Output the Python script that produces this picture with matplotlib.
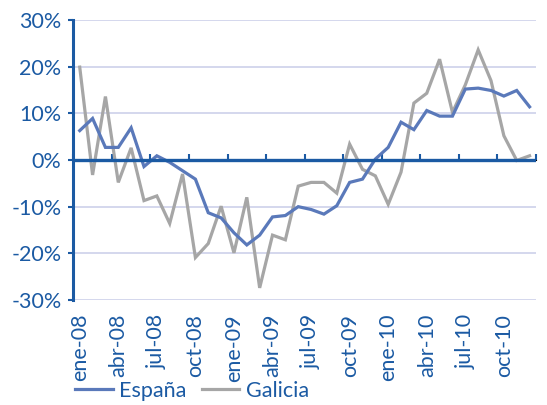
import matplotlib
matplotlib.use('Agg')
import matplotlib.pyplot as plt
import numpy as np

# monthly year-on-year change (%), ene-08 .. dic-10
month_names = ["ene", "feb", "mar", "abr", "may", "jun",
               "jul", "ago", "sep", "oct", "nov", "dic"]
years = ["08", "09", "10"]
months = [f"{m}-{y}" for y in years for m in month_names]

espana = [6.3, 8.9, 2.7, 2.7, 6.9, -1.4, 0.9, -0.5, -2.3, -4.1, -11.3, -12.4,
          -15.6, -18.2, -16.1, -12.2, -11.9, -10.0, -10.6, -11.6, -9.8, -4.8, -4.1, 0.2,
          2.7, 8.1, 6.5, 10.6, 9.4, 9.4, 15.2, 15.4, 14.9, 13.7, 14.9, 11.4]
galicia = [19.9, -3.2, 13.6, -4.8, 2.6, -8.7, -7.7, -13.6, -3.0, -20.9, -17.9, -9.9,
           -19.9, -8.0, -27.4, -16.1, -17.1, -5.6, -4.8, -4.8, -7.1, 3.4, -2.0, -3.4,
           -9.5, -2.6, 12.2, 14.3, 21.6, 10.2, 16.1, 23.6, 17.0, 5.2, -0.1, 0.9]
y_ticks = [-30, -20, -10, 0, 10, 20, 30]

BLUE_TXT = '#1b5aa3'
BLUE_LINE = '#5a79ba'
GREY_LINE = '#a6a6a6'
GRID = '#cdd1ea'

plt.rcParams['font.family'] = ['Lato', 'DejaVu Sans']

fig = plt.figure(figsize=(5.47, 4.05), dpi=100)
ax = fig.add_axes([73.3 / 547, 1 - 300 / 405, (536 - 73.3) / 547, 280 / 405])

x = np.arange(len(months))
ax.plot(x, espana, color=BLUE_LINE, lw=2.3, label='España', zorder=4,
        solid_joinstyle='miter')
ax.plot(x, galicia, color=GREY_LINE, lw=2.3, label='Galicia', zorder=3,
        solid_joinstyle='miter')

ax.set_xlim(-0.5, len(months) - 0.5)
ax.set_ylim(-30, 30)

# gridlines and zero axis
ax.set_yticks(y_ticks)
ax.set_yticklabels([f"{v}%" for v in y_ticks])
ax.yaxis.grid(True, color=GRID, lw=1.2)
ax.set_axisbelow(True)
ax.axhline(0, color=BLUE_TXT, lw=2.4, zorder=5)

for s in ['top', 'right', 'bottom']:
    ax.spines[s].set_visible(False)
ax.spines['left'].set_color(BLUE_TXT)
ax.spines['left'].set_linewidth(2.2)
ax.spines['left'].set_zorder(6)

ax.tick_params(axis='y', colors=BLUE_TXT, labelsize=15.5, length=3.5,
               width=1.5, pad=5, labelcolor=BLUE_TXT)

# category labels at the bottom, every third month
ax.set_xticks(x[::3])
ax.set_xticklabels(months[::3], rotation=90)
ax.tick_params(axis='x', length=0, pad=10, labelsize=15.5, labelcolor=BLUE_TXT)

# tick marks between categories on the zero line
sec = ax.secondary_xaxis(0.5)
sec.set_xticks(np.arange(-0.5, len(months), 3))
sec.set_xticklabels([])
sec.tick_params(axis='x', direction='out', length=4, width=1.5, colors=BLUE_TXT)
sec.spines['bottom'].set_visible(False)

fig.legend(loc='center left', bbox_to_anchor=(75 / 547, 1 - 391 / 405),
           ncol=2, frameon=False, fontsize=15.5, handlelength=1.75,
           handletextpad=0.3, columnspacing=0.7, borderpad=0, borderaxespad=0,
           labelcolor=BLUE_TXT)

fig.savefig('out.png', dpi=100)
plt.close(fig)
